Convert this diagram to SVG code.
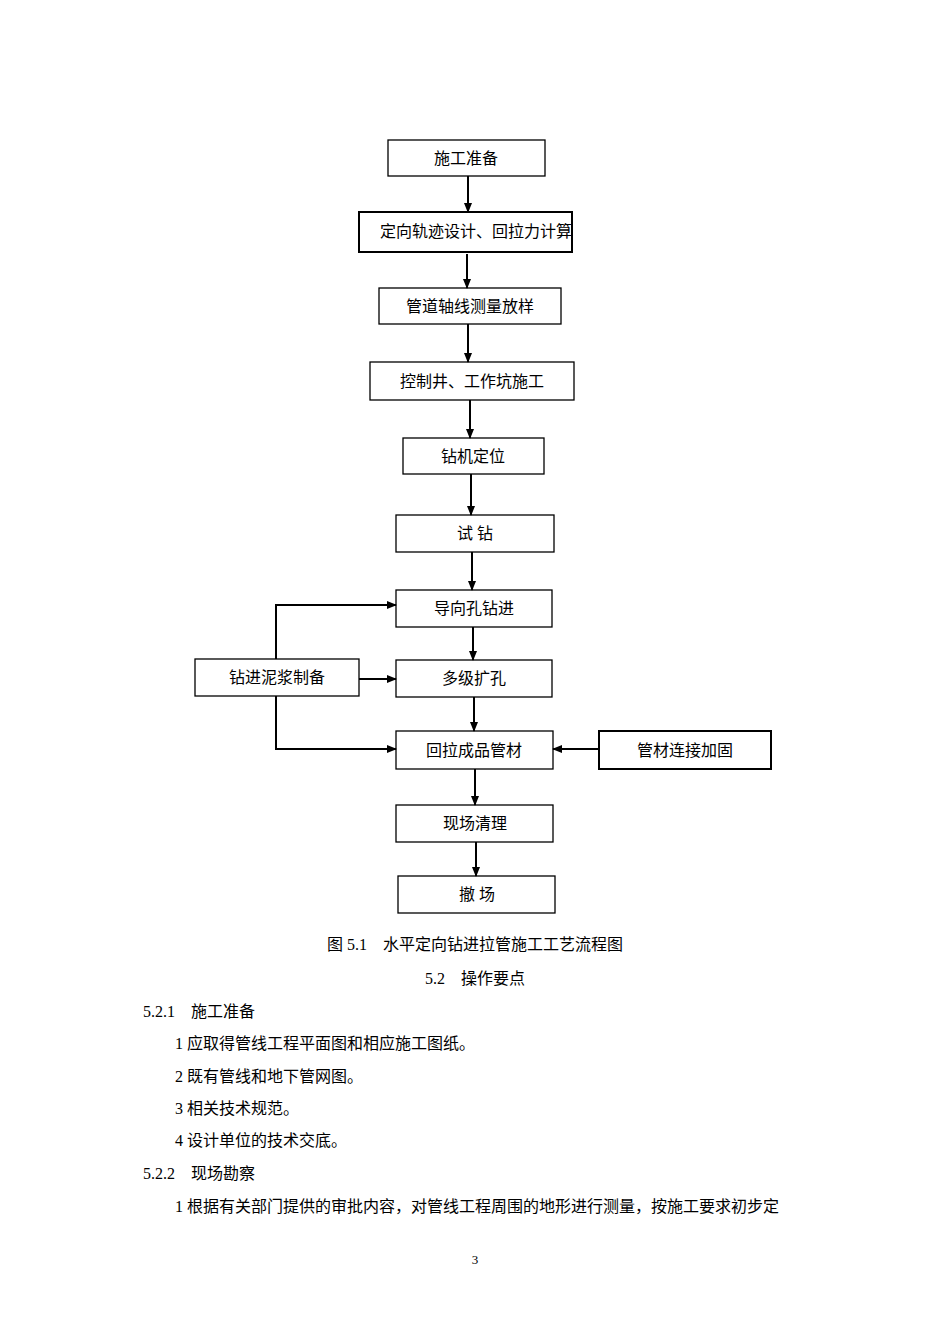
<svg xmlns="http://www.w3.org/2000/svg" width="950" height="1344" viewBox="0 0 950 1344">
<style>
rect{fill:#fff;stroke:#000;stroke-width:1.3}
.b{stroke-width:2}
text{font-family:"Liberation Serif","Noto Sans CJK SC",serif;font-size:16px;fill:#000}
.c{text-anchor:middle}
.l{stroke:#000;stroke-width:2;fill:none}
</style>
<defs><marker id="a" markerWidth="10" markerHeight="8" refX="9" refY="4" orient="auto" markerUnits="userSpaceOnUse"><path d="M0,0L10,4L0,8z"/></marker></defs>
<rect width="950" height="1344" style="fill:#fff;stroke:none"/>
<g id="n1"><rect x="388" y="140" width="157" height="36"/><text class="c" x="466" y="164">施工准备</text></g>
<g id="n2"><rect x="359" y="212" width="213" height="40" class="b"/><text class="c" x="476" y="237">定向轨迹设计、回拉力计算</text></g>
<g id="n3"><rect x="379" y="288" width="182" height="36"/><text class="c" x="470" y="312">管道轴线测量放样</text></g>
<g id="n4"><rect x="370" y="362" width="204" height="38"/><text class="c" x="472" y="387">控制井、工作坑施工</text></g>
<g id="n5"><rect x="403" y="438" width="141" height="36"/><text class="c" x="473" y="462">钻机定位</text></g>
<g id="n6"><rect x="396" y="515" width="158" height="37"/><text class="c" x="475" y="539">试 钻</text></g>
<g id="n7"><rect x="396" y="590" width="156" height="37"/><text class="c" x="474" y="614">导向孔钻进</text></g>
<g id="n8"><rect x="396" y="660" width="156" height="37"/><text class="c" x="474" y="684">多级扩孔</text></g>
<g id="n9"><rect x="195" y="659" width="164" height="37"/><text class="c" x="277" y="683">钻进泥浆制备</text></g>
<g id="n10"><rect x="396" y="731" width="157" height="38"/><text class="c" x="474" y="756">回拉成品管材</text></g>
<g id="n11"><rect x="599" y="731" width="172" height="38" class="b"/><text class="c" x="685" y="756">管材连接加固</text></g>
<g id="n12"><rect x="396" y="805" width="157" height="37"/><text class="c" x="475" y="829">现场清理</text></g>
<g id="n13"><rect x="398" y="876" width="157" height="37"/><text class="c" x="477" y="900">撤 场</text></g>
<g id="edges" marker-end="url(#a)">
<path class="l" d="M468,176V212"/>
<path class="l" d="M467,254V288"/>
<path class="l" d="M468,324V362"/>
<path class="l" d="M470,400V438"/>
<path class="l" d="M471,474V515"/>
<path class="l" d="M472,552V590"/>
<path class="l" d="M473,627V660"/>
<path class="l" d="M474,697V731"/>
<path class="l" d="M276,659V605H396"/>
<path class="l" d="M359,679H396"/>
<path class="l" d="M276,696V749H396"/>
<path class="l" d="M599,749H553"/>
<path class="l" d="M475,769V805"/>
<path class="l" d="M476,842V876"/>
</g>
<text class="c" x="475" y="950">图 5.1　水平定向钻进拉管施工工艺流程图</text>
<text class="c" x="475" y="984">5.2　操作要点</text>
<text x="143" y="1017">5.2.1　施工准备</text>
<text x="175" y="1049">1 应取得管线工程平面图和相应施工图纸。</text>
<text x="175" y="1082">2 既有管线和地下管网图。</text>
<text x="175" y="1114">3 相关技术规范。</text>
<text x="175" y="1146">4 设计单位的技术交底。</text>
<text x="143" y="1179">5.2.2　现场勘察</text>
<text x="175" y="1212">1 根据有关部门提供的审批内容，对管线工程周围的地形进行测量，按施工要求初步定</text>
<text class="c" x="475" y="1264" style="font-size:13px">3</text>
</svg>
